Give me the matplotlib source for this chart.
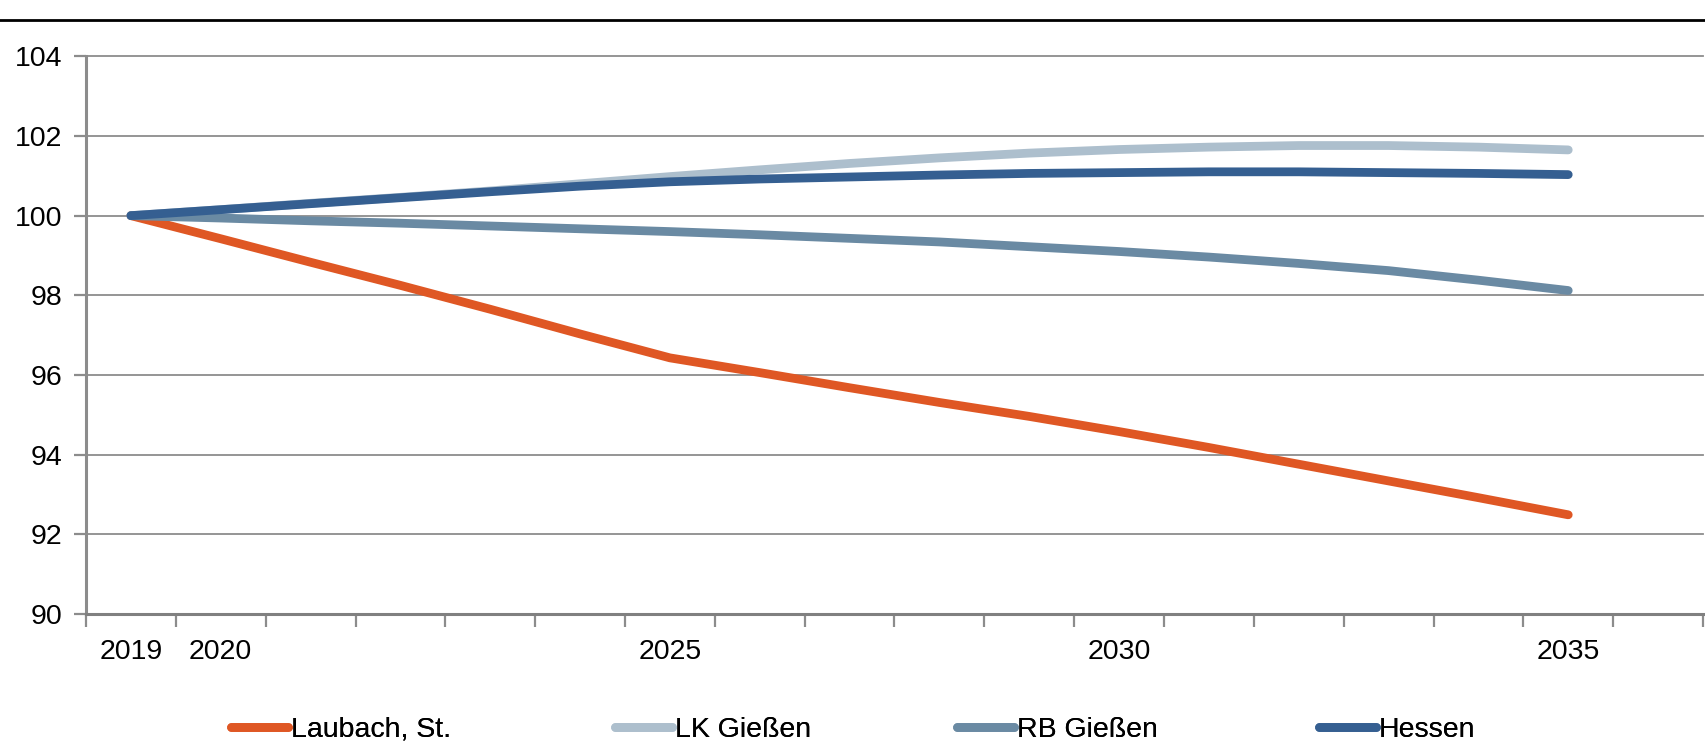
import numpy as np
import matplotlib
matplotlib.use("Agg")
import matplotlib.pyplot as plt
from matplotlib import font_manager as fm

# ---- data ----
years = [str(y) for y in range(2019, 2037)]          # categories (2036 slot empty)
shown_labels = {"2019", "2020", "2025", "2030", "2035"}
data_years = list(range(2019, 2036))

laubach = [100.0, 99.42, 98.83, 98.25, 97.65, 97.03, 96.43, 96.06, 95.68, 95.31,
           94.96, 94.58, 94.18, 93.76, 93.34, 92.92, 92.49]
lk_giessen = [100.0, 100.15, 100.31, 100.46, 100.62, 100.80, 100.98, 101.15, 101.31,
              101.45, 101.57, 101.66, 101.72, 101.76, 101.76, 101.72, 101.65]
rb_giessen = [100.0, 99.94, 99.87, 99.81, 99.74, 99.67, 99.60, 99.52, 99.43, 99.34,
              99.22, 99.10, 98.96, 98.80, 98.62, 98.38, 98.12]
hessen = [100.0, 100.15, 100.30, 100.45, 100.60, 100.74, 100.85, 100.92, 100.97,
          101.02, 101.06, 101.08, 101.10, 101.10, 101.08, 101.06, 101.03]

series_names = ["Laubach, St.", "LK Gießen", "RB Gießen", "Hessen"]
series_vals = [laubach, lk_giessen, rb_giessen, hessen]
series_colors = ["#DF5724", "#ADBFCD", "#6A8AA3", "#355F91"]

yticks = [90, 92, 94, 96, 98, 100, 102, 104]

# ---- font ----
names = {f.name for f in fm.fontManager.ttflist}
fam = [n for n in ["Liberation Sans Narrow", "Liberation Sans", "DejaVu Sans"] if n in names]
plt.rcParams["font.family"] = fam

W, H = 1705, 746
fig = plt.figure(figsize=(W / 100, H / 100), dpi=100)
ax = fig.add_axes([86 / W, (H - 614) / H, (1703 - 86) / W, (614 - 56.3) / H])

x = np.arange(len(data_years))
lines = []
for name, vals, col in zip(series_names, series_vals, series_colors):
    ln, = ax.plot(x, vals, color=col, lw=6.3, solid_capstyle="round",
                  solid_joinstyle="round", label=name, zorder=3)
    lines.append(ln)

ax.set_xlim(-0.5, len(years) - 0.5)
ax.set_ylim(90, 104)
ax.set_yticks(yticks)
ax.set_yticklabels([str(t) for t in yticks])
ax.yaxis.grid(True, color="#8C8C8C", lw=1.3, zorder=1)
for gl in ax.get_ygridlines():
    gl.set_clip_on(False)
ax.set_axisbelow(True)

# major x ticks at category boundaries, labels as minor ticks at centres
ax.set_xticks(np.arange(-0.5, len(years), 1.0))
ax.set_xticklabels([])
centres = [i for i, y in enumerate(years) if y in shown_labels]
ax.set_xticks(centres, minor=True)
ax.set_xticklabels([years[i] for i in centres], minor=True)
ax.tick_params(axis="x", which="major", length=9, width=1.6, color="#8C8C8C", direction="out")
ax.tick_params(axis="x", which="minor", length=0, pad=18, labelsize=20.5)
ax.tick_params(axis="y", length=9, width=1.6, color="#8C8C8C", direction="out",
               pad=8, labelsize=20.5)

for s in ["top", "right"]:
    ax.spines[s].set_visible(False)
ax.spines["left"].set_color("#8C8C8C")
ax.spines["left"].set_linewidth(2.2)
ax.spines["bottom"].set_color("#808080")
ax.spines["bottom"].set_linewidth(2.2)

# top rule
fig.add_artist(plt.Line2D([0, 1], [1 - 20 / H, 1 - 20 / H], transform=fig.transFigure,
                          color="black", lw=2.0))

# legend entries placed individually (uneven spacing as in the reference)
leg_x = [231 / W, 615 / W, 957 / W, 1319 / W]
for ln, lx in zip(lines, leg_x):
    lg = fig.legend(handles=[ln], loc="center left", bbox_to_anchor=(lx, 1 - 730 / H),
                    frameon=False, fontsize=20.5, handlelength=2.0, handletextpad=0.1,
                    borderaxespad=0, borderpad=0)
    fig.add_artist(lg)

fig.savefig("out.png", dpi=100)
